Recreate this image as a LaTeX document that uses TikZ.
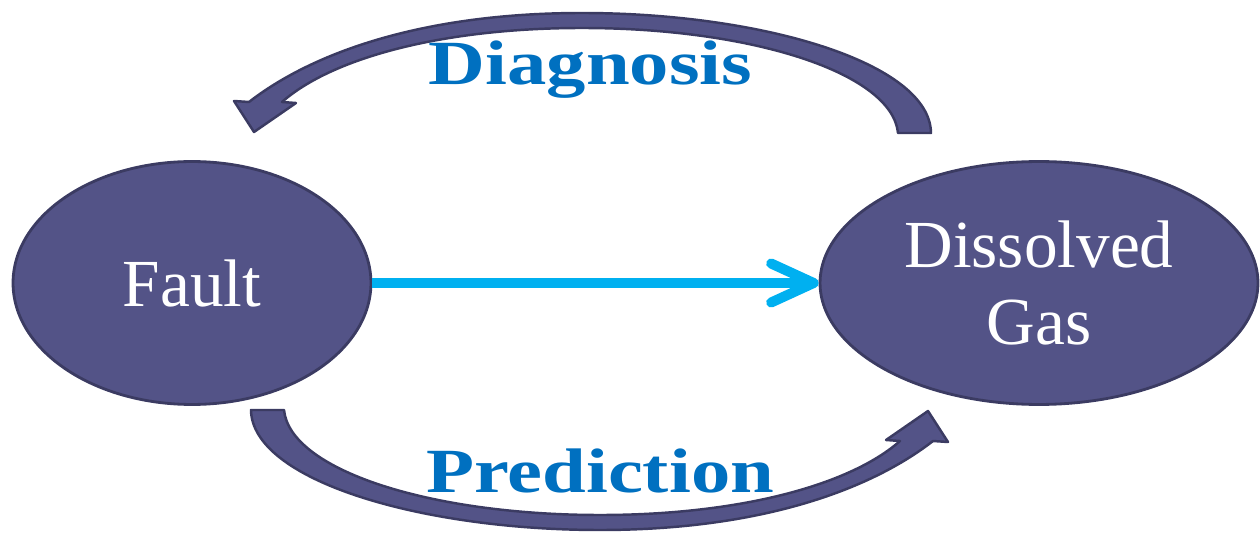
\documentclass[tikz,border=0pt]{standalone}
\usepackage{fontspec}
\setmainfont{Liberation Serif}
\newfontfamily\loopfont{Liberation Serif}[FakeStretch=1.25]
\usetikzlibrary{shapes.geometric,arrows.meta}

\definecolor{nodefill}{HTML}{535387}
\definecolor{nodeline}{HTML}{3B3B62}
\definecolor{textblue}{HTML}{0070C0}
\definecolor{linkcyan}{HTML}{00B0F0}

\tikzset{
	state/.style={ellipse, draw=nodeline, line width=1.6pt, fill=nodefill, text=white,
		font=\fontsize{38.3pt}{43.6pt}\selectfont, align=center, inner sep=0pt},
	bandarrow/.style={fill=nodefill, draw=nodeline, line width=1.4pt, line join=round},
	looplabel/.style={text=textblue, font=\loopfont\bfseries\fontsize{35.8pt}{40pt}\selectfont,
		anchor=base, inner sep=0pt}
}

\begin{document}
\begin{tikzpicture}[x=0.02cm,y=-0.02cm]
\useasboundingbox (0,0) rectangle (1260,533);
\def\pivot{(591,271.5)}

% the two states
\node[state, minimum width=7.16cm, minimum height=4.86cm] (fault) at (192,283) {Fault};
\node[state, minimum width=8.76cm, minimum height=4.86cm] (gas) at (1039,283) {Dissolved\\Gas};

% fault -> gas
\draw[linkcyan, line width=5.7pt,
	-{Straight Barb[round, length=0.85cm, width=0.78cm]}] (fault) -- (gas);

% bent arrows, the upper one is the lower one turned round
\foreach \turn in {0,180}
{
	\filldraw[bandarrow, rotate around={\turn:\pivot}]
		(251,410) .. controls (252,480) and (420,530) .. (600,530)
		.. controls (760,530) and (870,490) .. (933,441)
		-- (948,442) -- (928,411) -- (886,440) -- (900,441)
		.. controls (850,485) and (740,515) .. (600,515)
		.. controls (430,515) and (290,470) .. (284,410) -- cycle;
}

\node[looplabel] (diag) at (590.5,85) {Diagnosis};
\node[looplabel] (pred) at (600,492) {Prediction};

\end{tikzpicture}
\end{document}
